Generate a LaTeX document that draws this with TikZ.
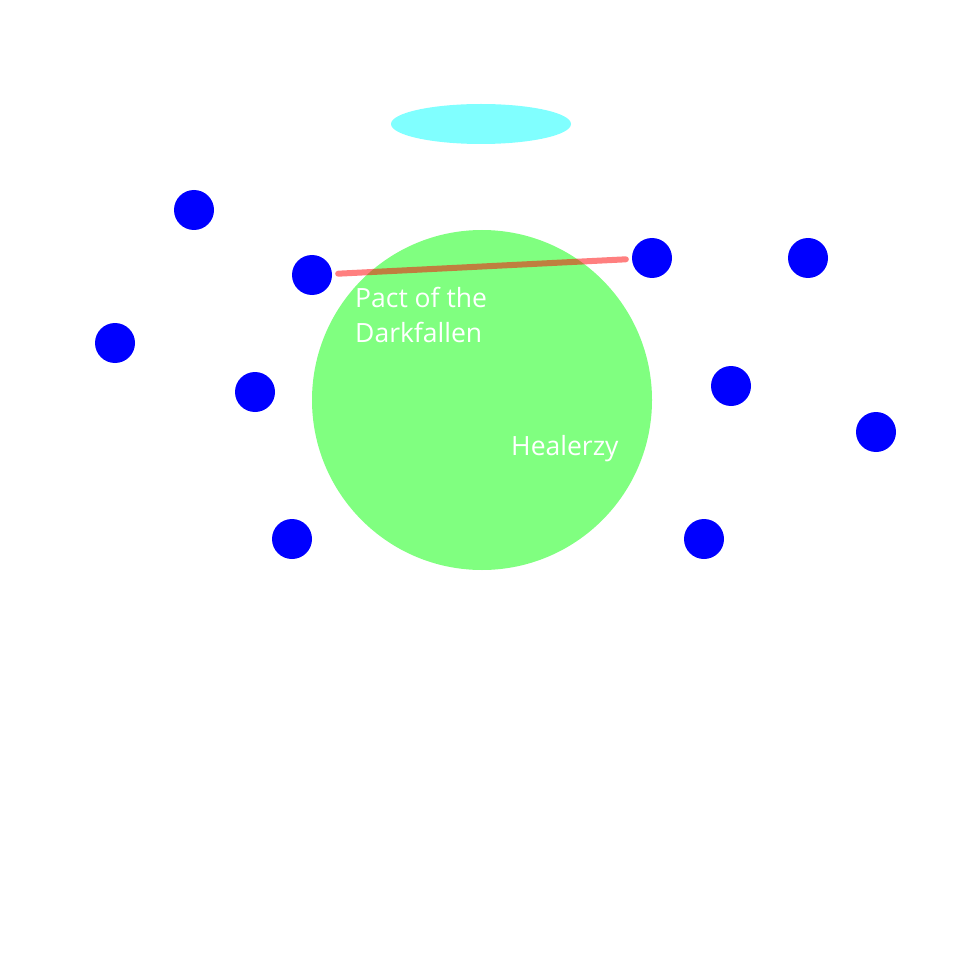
\documentclass[tikz,border=0pt]{standalone}
\usepackage{fontspec}
\setmainfont{Open Sans}
\usetikzlibrary{shapes.geometric}
\definecolor{lcyan}{RGB}{128,255,255}
\definecolor{lgreen}{RGB}{128,255,128}
\definecolor{pblue}{RGB}{0,0,255}
\begin{document}
\begin{tikzpicture}[x=1pt,y=-1pt,
  dot/.style={circle,fill=pblue,minimum size=40pt,inner sep=0pt},
  lbl/.style={text=white,inner sep=0pt,font=\fontsize{26.5}{35}\selectfont}]
\useasboundingbox (0,0) rectangle (965,965);
\node[ellipse,fill=lcyan,minimum width=180pt,minimum height=40pt,inner sep=0pt] (top) at (481,124) {};
\node[circle,fill=lgreen,minimum size=340pt,inner sep=0pt] (big) at (482,400) {};
\node[dot] (d1) at (194,210) {};
\node[dot] (d2) at (312,275) {};
\node[dot] (d3) at (115,343) {};
\node[dot] (d4) at (255,392) {};
\node[dot] (d5) at (292,539) {};
\node[dot] (d6) at (652,258) {};
\node[dot] (d7) at (808,258) {};
\node[dot] (d8) at (731,386) {};
\node[dot] (d9) at (876,432) {};
\node[dot] (d10) at (704,539) {};
\draw[red,opacity=0.5,line width=6pt,line cap=round,shorten <=6pt,shorten >=6pt] (d2) -- (d6);
\node[lbl,anchor=base west,align=left] (pact) at (355,342) {Pact of the\\Darkfallen};
\node[lbl,anchor=base west] (heal) at (511,455) {Healerzy};
\end{tikzpicture}
\end{document}
